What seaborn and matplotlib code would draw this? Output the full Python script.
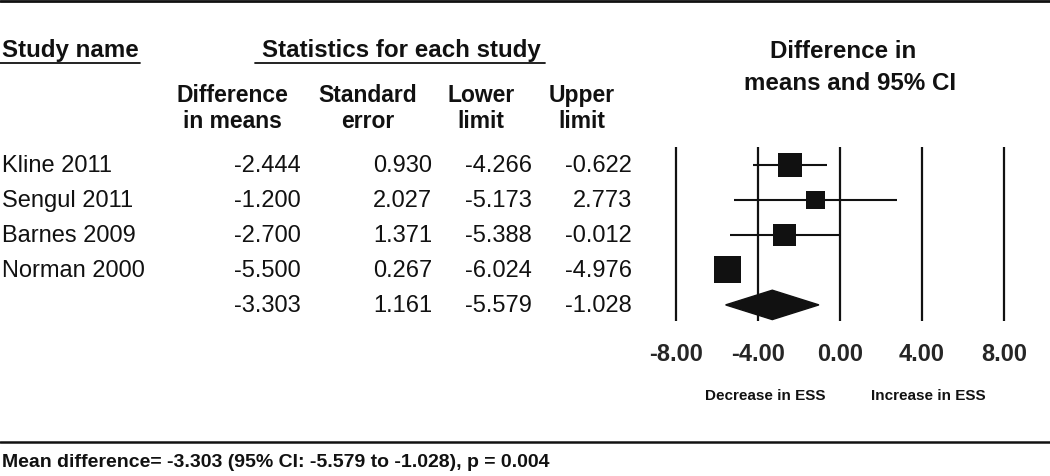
import numpy as np
import pandas as pd
import matplotlib.pyplot as plt
import matplotlib.transforms as mtransforms
from matplotlib.lines import Line2D
import seaborn as sns

# -------------------------------
# Data
# -------------------------------
studies = ["Kline 2011", "Sengul 2011", "Barnes 2009", "Norman 2000"]
diff_means = [-2.444, -1.200, -2.700, -5.500]
std_err = [0.930, 2.027, 1.371, 0.267]
lower_limit = [-4.266, -5.173, -5.388, -6.024]
upper_limit = [-0.622, 2.773, -0.012, -4.976]

summary_diff = -3.303
summary_se = 1.161
summary_lower = -5.579
summary_upper = -1.028
p_value = 0.004

x_ticks = [-8, -4, 0, 4, 8]

df = pd.DataFrame({
    "study": studies,
    "diff": diff_means,
    "se": std_err,
    "lower": lower_limit,
    "upper": upper_limit,
})
df["row"] = np.arange(len(df))
# square size follows a compressed inverse-variance weight
log_w = np.log(1 / df["se"] ** 2)
df["weight"] = np.sqrt((log_w - log_w.min()) / (log_w.max() - log_w.min()))
summary_row = len(df)

# -------------------------------
# Figure setup
# -------------------------------
sns.set_style("white")
plt.rcParams["font.family"] = ["Liberation Sans", "DejaVu Sans"]

W, H = 1050, 477
fig = plt.figure(figsize=(W / 100, H / 100), dpi=100)


def fx(x):
    return x / W


def fy(y):
    return 1 - y / H


ink = "#111111"

# forest plot axes
ax = fig.add_axes([fx(676), fy(322), fx(1004) - fx(676), fy(148) - fy(322)])
ax.set_xlim(-8, 8)
ax.set_ylim(summary_row + 0.46, -0.51)

ax.vlines(x_ticks, summary_row + 0.46, -0.51, color=ink, lw=1.6, clip_on=False)
ax.hlines(df["row"], df["lower"], df["upper"], color=ink, lw=1.5)

sns.scatterplot(
    data=df, x="diff", y="row", size="weight", sizes=(174, 378),
    marker="s", color=ink, edgecolor="none", linewidth=0,
    legend=False, ax=ax, zorder=3
)

h = 0.42
ax.fill(
    [summary_lower, summary_diff, summary_upper, summary_diff],
    [summary_row, summary_row - h, summary_row, summary_row + h],
    color=ink, zorder=3
)

sns.despine(ax=ax, left=True, bottom=True)
ax.set_yticks([])
ax.set_xticks(x_ticks)
ax.set_xticklabels(["{:.2f}".format(t) for t in x_ticks],
                   fontsize=17, fontweight="bold")
ax.tick_params(axis="x", length=0, pad=15)
ax.set_xlabel("")
ax.set_ylabel("")
ax.patch.set_alpha(0)

# -------------------------------
# Table text
# -------------------------------
row_tr = mtransforms.blended_transform_factory(fig.transFigure, ax.transData)
body = dict(fontsize=17, color=ink, va="center", transform=row_tr)

for i, r in df.iterrows():
    fig.text(fx(2), r["row"], r["study"], ha="left", **body)
    fig.text(fx(301), r["row"], "{:.3f}".format(r["diff"]), ha="right", **body)
    fig.text(fx(432), r["row"], "{:.3f}".format(r["se"]), ha="right", **body)
    fig.text(fx(532), r["row"], "{:.3f}".format(r["lower"]), ha="right", **body)
    fig.text(fx(632), r["row"], "{:.3f}".format(r["upper"]), ha="right", **body)

fig.text(fx(301), summary_row, "{:.3f}".format(summary_diff), ha="right", **body)
fig.text(fx(432), summary_row, "{:.3f}".format(summary_se), ha="right", **body)
fig.text(fx(532), summary_row, "{:.3f}".format(summary_lower), ha="right", **body)
fig.text(fx(632), summary_row, "{:.3f}".format(summary_upper), ha="right", **body)

# headers
big_head = dict(fontsize=17.4, fontweight="bold", color=ink, va="center")
fig.text(fx(2), fy(51), "Study name", ha="left", **big_head)
fig.text(fx(401), fy(51), "Statistics for each study", ha="center", **big_head)
fig.text(fx(843), fy(51), "Difference in", ha="center", **big_head)
fig.text(fx(850), fy(83), "means and 95% CI", ha="center", **big_head)

col_head_style = dict(fontsize=16.5, fontweight="bold", color=ink, va="center")
col_head = [("Difference", "in means", 232), ("Standard", "error", 368),
            ("Lower", "limit", 481), ("Upper", "limit", 582)]
for top, bottom, cx in col_head:
    fig.text(fx(cx), fy(96), top, ha="center", **col_head_style)
    fig.text(fx(cx), fy(122), bottom, ha="center", **col_head_style)

# underlines and rules
for x0, x1, y, lw in [(0, 140, 64, 1.3), (255, 545, 64, 1.3),
                      (0, W, 2, 2.0), (0, W, 443, 1.8)]:
    fig.add_artist(Line2D([fx(x0), fx(x1)], [fy(y), fy(y)],
                          color=ink, lw=lw, transform=fig.transFigure))

# direction labels
fig.text(fx(765), fy(396), "Decrease in ESS", ha="center", va="center",
         fontsize=11, fontweight="bold", color=ink)
fig.text(fx(928), fy(396), "Increase in ESS", ha="center", va="center",
         fontsize=11, fontweight="bold", color=ink)

# footer
footer = "Mean difference= {:.3f} (95% CI: {:.3f} to {:.3f}), p = {:.3f}".format(
    summary_diff, summary_lower, summary_upper, p_value)
fig.text(fx(2), fy(463), footer, ha="left", va="center",
         fontsize=14, fontweight="bold", color=ink)

fig.savefig("out.png", dpi=100)
